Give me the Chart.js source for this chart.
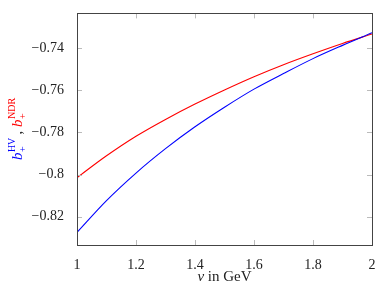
<!DOCTYPE html>
<html lang="en">
<head>
  <meta charset="UTF-8">
  <title>b+ HV / NDR</title>
  <script src="https://cdn.jsdelivr.net/npm/chart.js"></script>
  <style>
    html, body { margin: 0; padding: 0; background: #fff; }
    .chart-container { width: 382px; height: 287px; }
  </style>
</head>
<body>
<div class="chart-container">
  <canvas id="bChart"></canvas>
</div>
<script>
  // values
  const nu = [1.0, 1.1, 1.2, 1.3, 1.4, 1.5, 1.6, 1.7, 1.8, 1.9, 2.0];
  const bHV = [-0.8275, -0.8124, -0.7993, -0.7877, -0.7773, -0.7680, -0.7594, -0.7520, -0.7449, -0.7386, -0.7326];
  const bNDR = [-0.8015, -0.7911, -0.7818, -0.7738, -0.7665, -0.7598, -0.7535, -0.7478, -0.7426, -0.7377, -0.7332];
  const xTicks = [1, 1.2, 1.4, 1.6, 1.8, 2];
  const yTicks = [-0.82, -0.80, -0.78, -0.76, -0.74];

  const serif = '"Liberation Serif", "DejaVu Serif", serif';

  function fmt(v) {
    const s = String(Math.round(v * 1000) / 1000);
    return s.replace('-', '\u2212');
  }

  // frame, inner ticks and axis titles
  const decor = {
    id: 'decor',
    afterDraw(chart) {
      const ctx = chart.ctx;
      const a = chart.chartArea;
      const xs = chart.scales.x, ys = chart.scales.y;
      ctx.save();
      ctx.strokeStyle = '#bbbbbb';
      ctx.lineWidth = 1;
      ctx.beginPath();
      yTicks.forEach(v => {
        const y = Math.round(ys.getPixelForValue(v)) + 0.5;
        ctx.moveTo(a.left, y); ctx.lineTo(a.left + 5, y);
        ctx.moveTo(a.right, y); ctx.lineTo(a.right - 5, y);
      });
      xTicks.forEach(v => {
        const x = Math.round(xs.getPixelForValue(v)) + 0.5;
        ctx.moveTo(x, a.bottom); ctx.lineTo(x, a.bottom - 5);
        ctx.moveTo(x, a.top); ctx.lineTo(x, a.top + 5);
      });
      ctx.stroke();

      ctx.strokeStyle = '#444444';
      ctx.strokeRect(Math.round(a.left) + 0.5, Math.round(a.top) + 0.5,
        Math.round(a.right - a.left), Math.round(a.bottom - a.top));

      // x title
      ctx.fillStyle = '#222';
      ctx.textBaseline = 'alphabetic';
      const cx = (a.left + a.right) / 2;
      ctx.font = 'italic 15px ' + serif;
      const w1 = ctx.measureText('\u03bd').width;
      ctx.font = '15px ' + serif;
      const w2 = ctx.measureText(' in GeV').width;
      let x0 = cx - (w1 + w2) / 2;
      ctx.font = 'italic 15px ' + serif;
      ctx.fillText('\u03bd', x0, 281);
      ctx.font = '15px ' + serif;
      ctx.fillText(' in GeV', x0 + w1, 281);

      // y title, rotated, two colours
      const parts = [
        { main: 'b', sup: 'HV', sub: '+', color: '#0000ff' },
        { text: ' , ', color: '#222' },
        { main: 'b', sup: 'NDR', sub: '+', color: '#ff0000' }
      ];
      const bigFont = 'italic 15px ' + serif;
      const smallFont = '10px ' + serif;
      const plainFont = '15px ' + serif;
      const widths = parts.map(p => {
        if (p.text) { ctx.font = plainFont; return ctx.measureText(p.text).width; }
        ctx.font = bigFont;
        const mw = ctx.measureText(p.main).width;
        ctx.font = smallFont;
        return mw + Math.max(ctx.measureText(p.sup).width, ctx.measureText(p.sub).width);
      });
      const total = widths.reduce((s, w) => s + w, 0);
      ctx.translate(22, (a.top + a.bottom) / 2);
      ctx.rotate(-Math.PI / 2);
      let px = -total / 2;
      parts.forEach((p, i) => {
        ctx.fillStyle = p.color;
        if (p.text) {
          ctx.font = plainFont;
          ctx.fillText(p.text, px, 0);
        } else {
          ctx.font = bigFont;
          const mw = ctx.measureText(p.main).width;
          ctx.fillText(p.main, px, 0);
          ctx.font = smallFont;
          ctx.fillText(p.sup, px + mw + 0.5, -7);
          ctx.fillText(p.sub, px + mw + 0.5, 4);
        }
        px += widths[i];
      });
      ctx.restore();
    }
  };

  new Chart(document.getElementById('bChart').getContext('2d'), {
    type: 'line',
    data: {
      labels: nu,
      datasets: [
        {
          label: 'b+ HV',
          data: nu.map((v, i) => ({ x: v, y: bHV[i] })),
          borderColor: '#0000ff',
          borderWidth: 1.1,
          pointRadius: 0,
          cubicInterpolationMode: 'monotone',
          fill: false
        },
        {
          label: 'b+ NDR',
          data: nu.map((v, i) => ({ x: v, y: bNDR[i] })),
          borderColor: '#ff0000',
          borderWidth: 1.1,
          pointRadius: 0,
          cubicInterpolationMode: 'monotone',
          fill: false
        }
      ]
    },
    options: {
      responsive: true,
      maintainAspectRatio: false,
      animation: false,
      events: [],
      layout: { padding: { top: 1, right: 10, left: 0, bottom: 0 } },
      plugins: { legend: { display: false }, tooltip: { enabled: false } },
      scales: {
        x: {
          type: 'linear',
          min: 1,
          max: 2,
          grid: { display: false },
          border: { display: false },
          afterBuildTicks: s => { s.ticks = xTicks.map(v => ({ value: v })); },
          afterFit: s => { s.height = 42; },
          ticks: {
            color: '#222',
            padding: 4,
            maxRotation: 0,
            font: { family: serif, size: 14 },
            callback: v => fmt(v)
          }
        },
        y: {
          min: -0.8335,
          max: -0.7234,
          grid: { display: false },
          border: { display: false },
          afterBuildTicks: s => { s.ticks = yTicks.map(v => ({ value: v })); },
          afterFit: s => { s.width = 77; },
          ticks: {
            color: '#222',
            padding: 5,
            font: { family: serif, size: 14 },
            callback: v => fmt(v)
          }
        }
      }
    },
    plugins: [decor]
  });
</script>
</body>
</html>
